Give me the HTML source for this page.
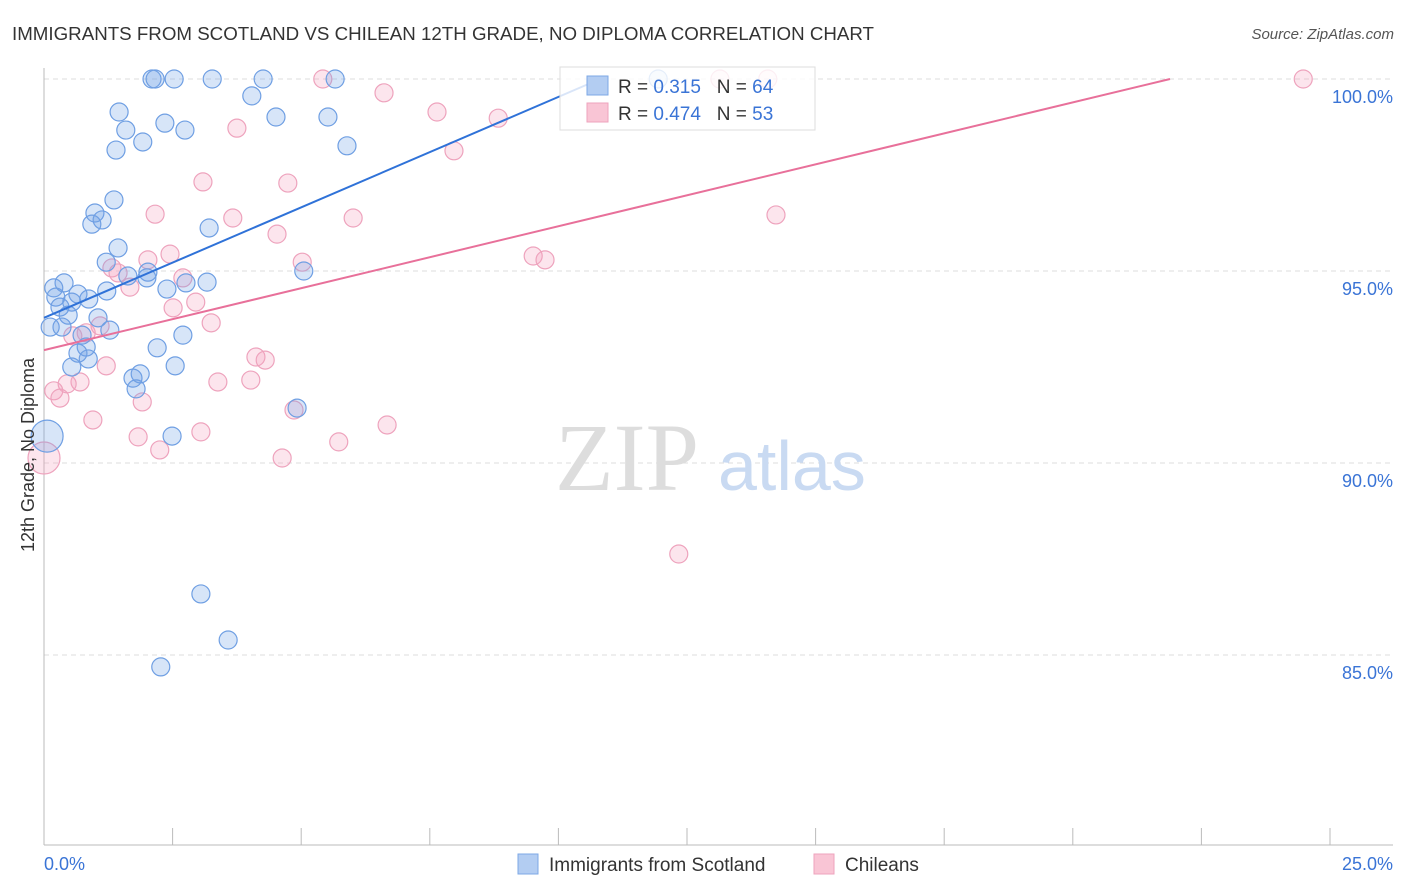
<!DOCTYPE html>
<html><head><meta charset="utf-8"><style>
body{margin:0;background:#fff;font-family:"Liberation Sans",sans-serif}
svg{display:block}
</style></head><body>
<svg id="chart" width="1406" height="892">
<text x="12" y="40" font-size="18" fill="#333" textLength="862" lengthAdjust="spacingAndGlyphs">IMMIGRANTS FROM SCOTLAND VS CHILEAN 12TH GRADE, NO DIPLOMA CORRELATION CHART</text>
<text x="1394" y="39" font-size="15" fill="#555" font-style="italic" text-anchor="end">Source: ZipAtlas.com</text>
<g id="grid"></g>
<g id="axes"></g>
<text x="555" y="490" font-size="96" fill="#ddd" font-family="Liberation Serif">ZIP</text>
<text x="718" y="490" font-size="70" fill="#c9daf2">atlas</text>
<g id="pts"></g>
<g id="lines"></g>
<text transform="translate(34,455) rotate(-90)" font-size="18" fill="#333" text-anchor="middle">12th Grade, No Diploma</text>
<g>
<rect x="560" y="67" width="255" height="63" fill="#fff" fill-opacity="0.82" stroke="#ddd"/>
<rect x="587" y="76" width="21" height="19" fill="#b3cdf2" stroke="#7ea8e6"/>
<rect x="587" y="103" width="21" height="19" fill="#f9c5d5" stroke="#eea3bd"/>
<text x="618" y="93" font-size="19" fill="#333">R = <tspan fill="#3a74d6">0.315</tspan>&#160;&#160;&#160;N = <tspan fill="#3a74d6">64</tspan></text>
<text x="618" y="120" font-size="19" fill="#333">R = <tspan fill="#3a74d6">0.474</tspan>&#160;&#160;&#160;N = <tspan fill="#3a74d6">53</tspan></text>
</g>
<g>
<rect x="518" y="854" width="20" height="20" fill="#b3cdf2" stroke="#7ea8e6"/>
<text x="549" y="871" font-size="19" fill="#333">Immigrants from Scotland</text>
<rect x="814" y="854" width="20" height="20" fill="#f9c5d5" stroke="#eea3bd"/>
<text x="845" y="871" font-size="19" fill="#333">Chileans</text>
</g>
</svg>
<script>
const yTicks=[100,95,90,85];
const yTickLabels=["100.0%","95.0%","90.0%","85.0%"];
const xTickValues=[0,2.5,5,7.5,10,12.5,15,17.5,20,22.5,25];
const blueX=[2.10,2.16,2.53,3.27,4.26,5.66,11.94,4.04,1.46,4.51,5.52,2.35,1.59,2.74,1.92,1.40,5.89,1.36,0.99,0.93,1.13,3.21,1.44,1.21,2.02,1.63,2.0,2.76,3.17,5.05,0.39,0.19,2.39,1.22,0.66,0.23,0.87,0.54,0.31,0.47,1.05,0.74,1.28,0.12,0.35,2.70,2.20,0.82,0.66,0.86,0.54,2.55,1.87,1.73,1.79,4.92,2.49,3.05,3.58,2.27];
const blueY=[100,100,100,100,100,100,100,99.56,99.14,99.01,99.01,98.85,98.67,98.67,98.36,98.15,98.26,96.85,96.51,96.22,96.33,96.12,95.60,95.23,94.97,94.87,94.82,94.69,94.71,95.0,94.69,94.56,94.53,94.48,94.40,94.32,94.27,94.19,94.06,93.85,93.78,93.33,93.46,93.54,93.54,93.33,93.0,93.02,92.86,92.71,92.5,92.53,92.32,92.21,91.93,91.43,90.70,86.59,85.39,84.69];
const blueBigX=[0.06], blueBigY=[90.70];
const pinkX=[5.42,13.14,14.07,24.48,6.61,7.64,8.83,3.75,7.97,3.09,4.74,2.16,3.67,6.01,14.23,4.53,2.45,2.02,5.02,9.51,9.74,1.32,1.44,2.70,1.67,2.51,2.95,3.25,1.09,0.82,0.56,4.12,4.30,1.21,3.38,4.02,0.70,0.45,0.19,0.31,1.91,4.86,6.67,0.95,1.83,3.05,5.73,2.25,4.63,12.34];
const pinkY=[100,100,100,100,99.64,99.14,98.98,98.72,98.13,97.32,97.29,96.48,96.38,96.38,96.46,95.96,95.44,95.29,95.23,95.39,95.29,95.08,94.95,94.82,94.58,94.04,94.19,93.65,93.57,93.39,93.31,92.76,92.68,92.53,92.11,92.16,92.11,92.06,91.88,91.69,91.59,91.38,90.99,91.12,90.68,90.81,90.55,90.34,90.13,87.63];
const pinkBigX=[0], pinkBigY=[90.13];
const trendStart=[93.78,92.94], trendEndX=[10.81,21.89], trendEndY=[100,100];
const X=v=>44+v*51.44, Y=v=>79+(100-v)*38.4;
const NS="http://www.w3.org/2000/svg";
function mk(t,a,p){const e=document.createElementNS(NS,t);for(const k in a)e.setAttribute(k,a[k]);p.appendChild(e);return e;}
const grid=document.getElementById('grid'),axes=document.getElementById('axes');
yTicks.forEach((v,i)=>{
 const l=mk('line',{x1:44,x2:1393,y1:Y(v),y2:Y(v),stroke:'#ddd','stroke-dasharray':'5,4'},grid);
 
 
 const t=mk('text',{x:1393,y:Y(v)+24,'font-size':18,fill:'#3a74d6','text-anchor':'end'},axes);
 t.textContent=yTickLabels[i];
 
 
});
mk('line',{x1:44,x2:44,y1:68,y2:845,stroke:'#bbb'},axes);
mk('line',{x1:44,x2:1393,y1:845,y2:845,stroke:'#bbb'},axes);
xTickValues.forEach(v=>{const l=mk('line',{x1:X(v),x2:X(v),y1:828,y2:845,stroke:'#bbb'},axes);
 
 });
let t=mk('text',{x:44,y:870,'font-size':18,fill:'#3a74d6'},axes);t.textContent="0.0%";


t=mk('text',{x:1393,y:870,'font-size':18,fill:'#3a74d6','text-anchor':'end'},axes);t.textContent="25.0%";


const pts=document.getElementById('pts');
function dots(xs,ys,r,fill,stroke,name){xs.forEach((x,i)=>{const c=mk('circle',{cx:X(x),cy:Y(ys[i]),r:r,fill:fill,stroke:stroke,'stroke-width':1.2},pts);
 
 });}
dots(pinkX,pinkY,9,'rgba(244,160,190,0.28)','#eea3bd','chileans-point');
dots(pinkBigX,pinkBigY,16,'rgba(244,160,190,0.28)','#eea3bd','chileans-point');
dots(blueX,blueY,9,'rgba(110,160,230,0.28)','#6f9fe3','scotland-point');
dots(blueBigX,blueBigY,16,'rgba(110,160,230,0.28)','#6f9fe3','scotland-point');
const lines=document.getElementById('lines');
const cols=['#2f72d8','#e8709a'],names=['scotland-trend-line','chileans-trend-line'];
trendStart.forEach((s,i)=>{const l=mk('line',{x1:X(0),y1:Y(s),x2:X(trendEndX[i]),y2:Y(trendEndY[i]),stroke:cols[i],'stroke-width':2},lines);
 
 });
</script>
</body></html>
